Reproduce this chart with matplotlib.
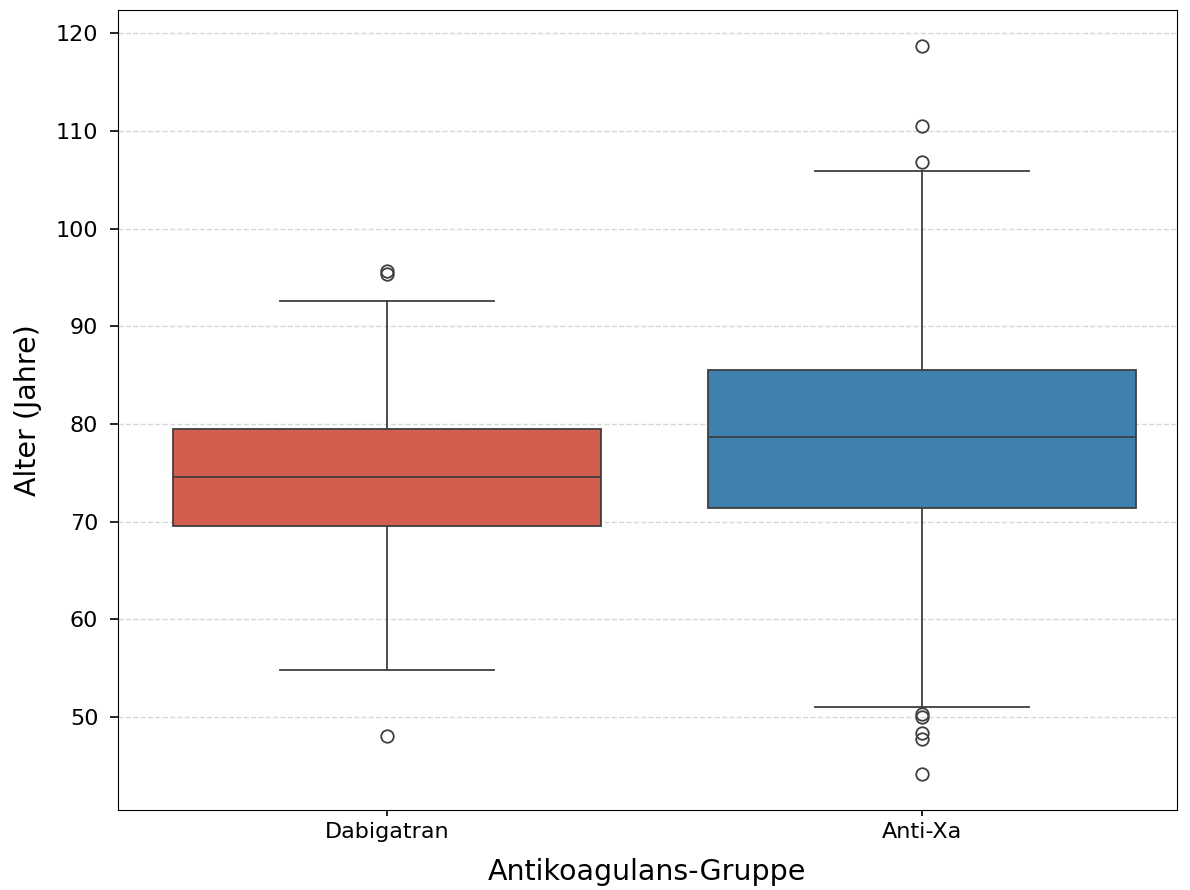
import matplotlib
matplotlib.use("Agg")
import matplotlib.pyplot as plt

groups = ["Dabigatran", "Anti-Xa"]
whislo = [54.8, 51.0]
q1 = [69.6, 71.4]
med = [74.6, 78.7]
q3 = [79.5, 85.5]
whishi = [92.6, 105.9]
fliers = [
    [95.7, 95.4, 48.05],
    [118.7, 110.5, 106.8, 50.3, 50.0, 48.4, 47.7, 44.2],
]
colors = ["#d35e4f", "#3e81b0"]

stats = []
for i, g in enumerate(groups):
    stats.append(dict(label=g, whislo=whislo[i], q1=q1[i], med=med[i],
                      q3=q3[i], whishi=whishi[i], fliers=fliers[i]))

fig = plt.figure(figsize=(11.9, 8.9), dpi=100)
ax = fig.add_axes([0.099, 0.09, 0.89, 0.899])
line_c = "#3f3f3f"
bp = ax.bxp(stats, positions=range(len(groups)), widths=0.8, patch_artist=True,
            boxprops=dict(edgecolor=line_c, linewidth=1.3),
            medianprops=dict(color=line_c, linewidth=1.3),
            whiskerprops=dict(color=line_c, linewidth=1.3),
            capprops=dict(color=line_c, linewidth=1.3),
            flierprops=dict(marker="o", markerfacecolor="none", markeredgecolor=line_c,
                            markersize=9, markeredgewidth=1.3),
            capwidths=0.4)
for patch, c in zip(bp["boxes"], colors):
    patch.set_facecolor(c)
ax.set_xlim(-0.503, 1.477)
ax.set_xticks(range(len(groups)))
ax.set_xticklabels(groups)
ax.tick_params(axis="y", labelsize=16, length=6, width=1.2, pad=8)
ax.tick_params(axis="x", labelsize=16, length=4.5, width=1.2, pad=4)
ax.yaxis.grid(True, linestyle="--", color="#cccccc", alpha=0.8, linewidth=1)
ax.set_axisbelow(True)
ax.set_ylabel("Alter (Jahre)", fontsize=20.5, labelpad=10)
ax.set_xlabel("Antikoagulans-Gruppe", fontsize=20.5, labelpad=12)
fig.savefig("out.png", dpi=100)
